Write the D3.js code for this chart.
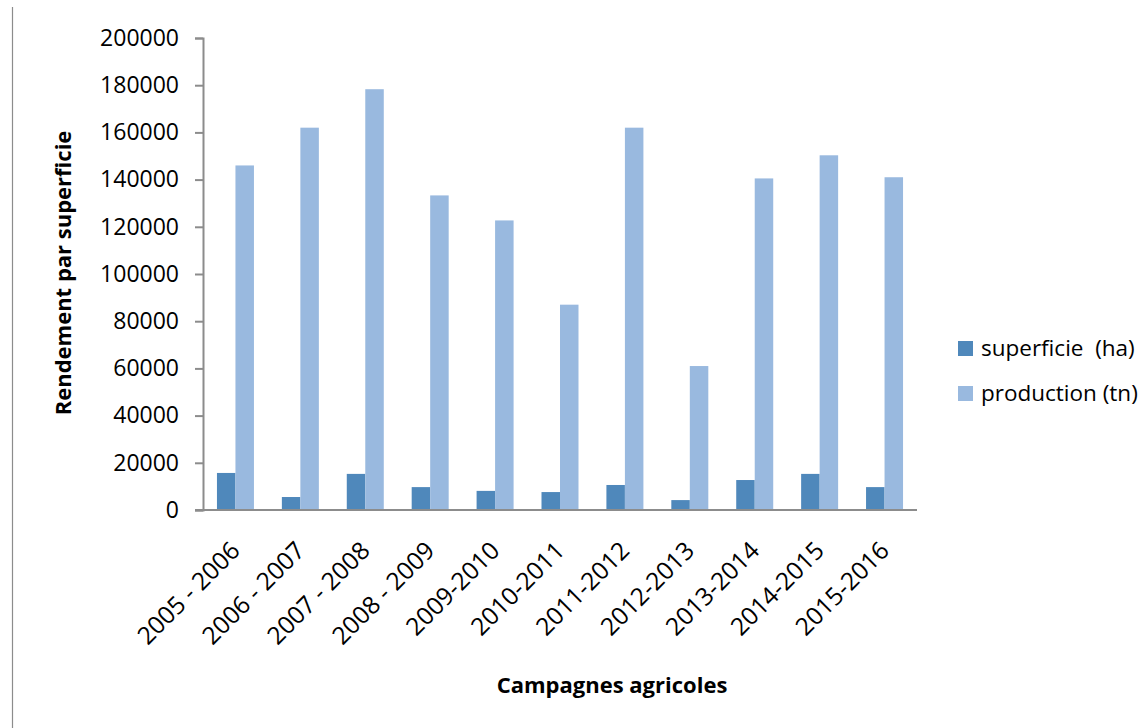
<!DOCTYPE html>
<html>
<head>
<meta charset="utf-8">
<script src="https://cdn.jsdelivr.net/npm/d3@7"></script>
<style>
  html, body { margin: 0; padding: 0; background: #fff; }
  svg { display: block; }
  text { font-family: "Open Sans", "Noto Sans", sans-serif; fill: #000; }
</style>
</head>
<body>
<svg id="chart" width="1146" height="728"></svg>
<script>
// Campagnes agricoles (x categories)
const campagnes = ["2005 - 2006", "2006 - 2007", "2007 - 2008", "2008 - 2009", "2009-2010",
  "2010-2011", "2011-2012", "2012-2013", "2013-2014", "2014-2015", "2015-2016"];
// Superficie (ha)
const superficie = [15700, 5500, 15300, 9700, 8100, 7600, 10600, 4200, 12700, 15300, 9700];
// Production (tn)
const production = [146000, 162000, 178300, 133300, 122700, 87000, 162000, 61000, 140500, 150300, 141000];
// Series names and y ticks
const seriesNames = ["superficie  (ha)", "production (tn)"];
const yTicks = [0, 20000, 40000, 60000, 80000, 100000, 120000, 140000, 160000, 180000, 200000];

const colors = ["#4f88bb", "#99b9df"];
const svg = d3.select("#chart");

const plot = { left: 203, right: 917, top: 38, bottom: 510 };

const x = d3.scaleBand()
  .domain(campagnes)
  .range([plot.left, plot.right])
  .paddingInner(0.43)
  .paddingOuter(0.215);

const xSub = d3.scaleBand()
  .domain([0, 1])
  .range([0, x.bandwidth()]);

const y = d3.scaleLinear()
  .domain([0, 200000])
  .range([plot.bottom, plot.top]);

// Outer frame line on the left
svg.append("line")
  .attr("x1", 12.5).attr("x2", 12.5)
  .attr("y1", 7).attr("y2", 728)
  .attr("stroke", "#8c8c8c").attr("stroke-width", 1.2);

// Bars
const series = [superficie, production];
series.forEach((vals, si) => {
  svg.append("g").selectAll("rect")
    .data(vals)
    .join("rect")
    .attr("x", (d, i) => x(campagnes[i]) + xSub(si))
    .attr("y", d => y(d))
    .attr("width", xSub.bandwidth())
    .attr("height", d => y(0) - y(d))
    .attr("fill", colors[si]);
});

// Y axis
const yAxis = svg.append("g")
  .attr("transform", `translate(${plot.left},0)`)
  .call(d3.axisLeft(y).tickValues(yTicks).tickFormat(d3.format("d")).tickSize(8).tickPadding(16));
yAxis.select(".domain").attr("stroke", "#8c8c8c").attr("stroke-width", 2);
yAxis.selectAll(".tick line").attr("stroke", "#8c8c8c").attr("stroke-width", 2);
yAxis.selectAll(".tick text")
  .attr("font-size", 23)
  .attr("font-family", "Open Sans, sans-serif")
  .attr("fill", "#000");

// X axis
const xAxis = svg.append("g")
  .attr("transform", `translate(0,${plot.bottom})`)
  .call(d3.axisBottom(x).tickSize(0).tickPadding(0));
xAxis.select(".domain")
  .attr("d", `M${plot.left - 8},0H${plot.right}`)
  .attr("stroke", "#8c8c8c").attr("stroke-width", 2);
xAxis.selectAll(".tick text")
  .attr("font-size", 24.5)
  .attr("font-family", "Open Sans, sans-serif")
  .attr("fill", "#000")
  .attr("text-anchor", "end")
  .attr("transform", "translate(0,36) rotate(-45)")
  .attr("dy", "0.35em");

// Axis titles
svg.append("text")
  .attr("x", 612).attr("y", 693)
  .attr("text-anchor", "middle")
  .attr("font-size", 22).attr("font-weight", "bold")
  .text("Campagnes agricoles");

svg.append("text")
  .attr("transform", "translate(71,273) rotate(-90)")
  .attr("text-anchor", "middle")
  .attr("font-size", 22).attr("font-weight", "bold")
  .text("Rendement par superficie");

// Legend
const legend = svg.append("g");
seriesNames.forEach((name, i) => {
  const ly = 348 + i * 45;
  legend.append("rect")
    .attr("x", 958).attr("y", ly - 7)
    .attr("width", 15).attr("height", 15)
    .attr("fill", colors[i]);
  legend.append("text")
    .attr("x", 981).attr("y", ly)
    .attr("dy", "0.35em")
    .attr("font-size", 22.5)
    .attr("xml:space", "preserve")
    .style("white-space", "pre")
    .text(name);
});
</script>
</body>
</html>
